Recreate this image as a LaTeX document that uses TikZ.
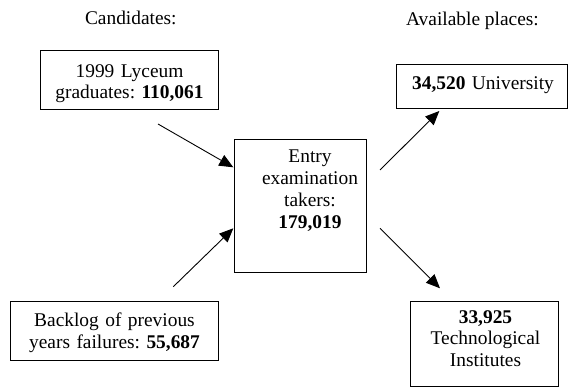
\documentclass[tikz,border=0pt]{standalone}
\usepackage{fontspec}
\setmainfont{Liberation Serif}
\usetikzlibrary{arrows.meta}
\frenchspacing
\tikzset{
  boxnode/.style={draw=black, line width=0.9pt, rectangle, inner sep=0pt},
  txt/.style={anchor=base, inner sep=0pt, align=center, font=\frenchspacing\fontsize{19.4}{21.7}\selectfont},
  arr/.style={line width=0.9pt, -{Triangle[length=14pt,width=12pt]}}
}
\begin{document}
\begin{tikzpicture}[x=1pt,y=-1pt]
\useasboundingbox (0,0) rectangle (569,387);
% headings
\node[txt] (cand) at (130.8,25) {Candidates:};
\node[txt] (avail) at (472.5,26) {Available places:};
% boxes
\node[boxnode, minimum width=177.6pt, minimum height=59.3pt] (b1) at (129.5,79.65) {};
\node[boxnode, minimum width=132.7pt, minimum height=133.4pt] (mid) at (300.35,206) {};
\node[boxnode, minimum width=171pt, minimum height=44pt] (bu) at (482,86.3) {};
\node[boxnode, minimum width=207.6pt, minimum height=59pt] (bl) at (114.5,331.2) {};
\node[boxnode, minimum width=147.6pt, minimum height=84.3pt] (bt) at (484.5,343.85) {};
% texts
\node[txt, text width=175pt] (t1) at (129.5,77.3) {1999 Lyceum\\graduates: \textbf{110,061}};
\node[txt, text width=130pt] (tm) at (310,163) {Entry\\examination\\takers:\\\textbf{179,019}};
\node[txt, text width=170pt] (tu) at (483,90) {\textbf{34,520} University};
\node[txt, text width=205pt] (tb) at (114.5,326.7) {Backlog of previous\\years failures: \textbf{55,687}};
\node[txt, text width=145pt] (tt) at (485.5,323) {\textbf{33,925}\\Technological\\Institutes};
% arrow ends
\coordinate (a1s) at (158,124);
\coordinate (a1e) at (233.3,167.3);
\coordinate (a2s) at (173.3,286.7);
\coordinate (a2e) at (233.3,228.3);
\coordinate (a3s) at (380,170);
\coordinate (a3e) at (439.3,111);
\coordinate (a4s) at (380,228.3);
\coordinate (a4e) at (440,288.3);
\draw[arr] (a1s) -- (a1e);
\draw[arr] (a2s) -- (a2e);
\draw[arr] (a3s) -- (a3e);
\draw[arr] (a4s) -- (a4e);
\end{tikzpicture}
\end{document}
